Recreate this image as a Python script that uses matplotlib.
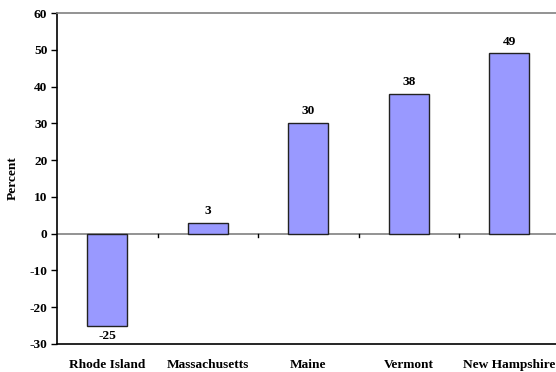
import matplotlib.pyplot as plt
import numpy as np

states = ["Rhode Island", "Massachusetts", "Maine", "Vermont", "New Hampshire"]
change = [-25, 3, 30, 38, 49]
yticks = [-30, -20, -10, 0, 10, 20, 30, 40, 50, 60]

plt.rcParams['font.family'] = ['Liberation Serif', 'DejaVu Serif']
plt.rcParams['font.weight'] = 'bold'
fs = 9.6

fig = plt.figure(figsize=(5.56, 3.72), dpi=100)
ax = fig.add_axes([57 / 556, 28 / 372, 502.5 / 556, 331 / 372])

x = np.arange(len(states))
ax.bar(x, change, width=0.4, color='#9999FF', edgecolor='#222222', linewidth=1.0, zorder=3)

# zero line with category separator ticks hanging below it
ax.axhline(0, color='#808080', linewidth=1.2, zorder=2)
for b in np.arange(0.5, len(states) - 0.5, 1):
    ax.plot([b, b], [0, -0.9], color='black', linewidth=1.0, zorder=2)

for xi, v in zip(x, change):
    if v >= 0:
        ax.text(xi, v + 1.6, str(v), ha='center', va='bottom', fontsize=fs, fontweight='bold')
    else:
        ax.text(xi, v - 1.2, str(v), ha='center', va='top', fontsize=fs, fontweight='bold')

ax.set_xlim(-0.5, len(states) - 0.5)
ax.set_ylim(-30, 60)
ax.set_yticks(yticks)
ax.set_yticklabels([str(t) for t in yticks], fontsize=fs, fontweight='bold')
ax.set_xticks(x)
ax.set_xticklabels(states, fontsize=fs, fontweight='bold')
ax.tick_params(axis='x', length=0, pad=11)
ax.tick_params(axis='y', length=4, width=1.0, direction='out', pad=3)
ax.set_ylabel("Percent", fontsize=fs, fontweight='bold', labelpad=8)

ax.spines['left'].set_linewidth(1.2)
ax.spines['bottom'].set_linewidth(1.2)
ax.spines['top'].set_color('#808080')
ax.spines['top'].set_linewidth(1.2)
ax.spines['right'].set_visible(False)

fig.savefig("out.png", dpi=100)
